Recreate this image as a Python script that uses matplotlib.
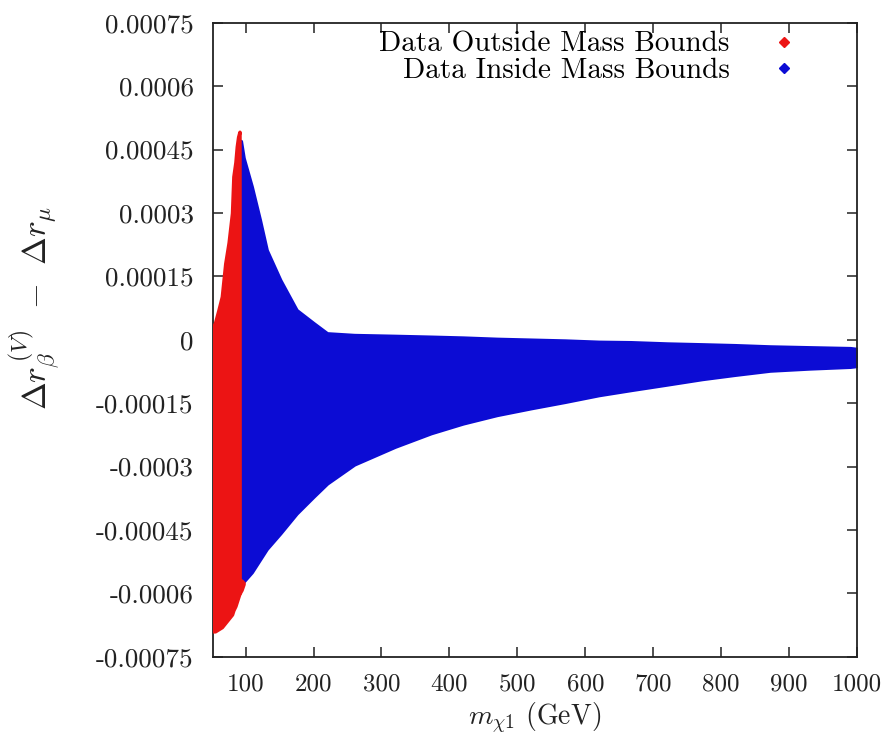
import matplotlib
matplotlib.use("Agg")
import matplotlib.pyplot as plt
from matplotlib.lines import Line2D

plt.rcParams['font.family'] = 'serif'
plt.rcParams['font.serif'] = ['cmr10', 'DejaVu Serif']
plt.rcParams['mathtext.fontset'] = 'cm'
plt.rcParams['axes.unicode_minus'] = False
plt.rcParams['axes.formatter.use_mathtext'] = True

# Envelope of the scatter (mass in GeV)
# red: data outside mass bounds
red_mass = [52, 55, 60, 65, 70, 75, 80, 82, 85, 87, 89, 91, 91.2, 94, 97]
red_upper = [0.00003, 0.00004, 0.00007, 0.000102, 0.00018, 0.00023, 0.0003,
             0.000386, 0.00042, 0.000457, 0.00048, 0.000492,
             -0.00057, -0.00057, -0.000575]
red_lower = [-0.00069, -0.00069, -0.000685, -0.00068, -0.00067, -0.00066,
             -0.00065, -0.00064, -0.00063, -0.00062, -0.00061, -0.00060,
             -0.00060, -0.000592, -0.000578]

# blue: data inside mass bounds
blue_mass = [91, 93, 97, 109, 121, 131, 151, 175, 200, 220, 260, 320, 373,
             420, 470, 520, 570, 620, 667, 720, 772, 820, 872, 930, 990, 1000]
blue_upper = [0.00046, 0.00047, 0.00043, 0.000362, 0.000283, 0.000212,
              0.000141, 0.00007, 0.000039, 0.000015, 0.000011, 0.000009,
              0.000007, 0.000005, 0.000002, 0.0, -0.000002, -0.000005,
              -0.000006, -0.000009, -0.000011, -0.000013, -0.000016,
              -0.000018, -0.00002, -0.000022]
blue_lower = [-0.00058, -0.00058, -0.000572, -0.00055, -0.00052, -0.000495,
              -0.000458, -0.000411, -0.000371, -0.00034, -0.000295,
              -0.000253, -0.000221, -0.000198, -0.000178, -0.000162,
              -0.000147, -0.000131, -0.000119, -0.000106, -0.000093,
              -0.000083, -0.000073, -0.000068, -0.000064, -0.000062]

x_ticks = [100, 200, 300, 400, 500, 600, 700, 800, 900, 1000]
y_ticks = [-0.00075, -0.0006, -0.00045, -0.0003, -0.00015, 0,
           0.00015, 0.0003, 0.00045, 0.0006, 0.00075]
y_tick_labels = ['-0.00075', '-0.0006', '-0.00045', '-0.0003', '-0.00015', '0',
                 '0.00015', '0.0003', '0.00045', '0.0006', '0.00075']

red = '#ec1414'
blue = '#0c0cd4'

fig = plt.figure(figsize=(8.9, 7.44), dpi=100)
ax = fig.add_axes([213 / 890, 87.3 / 744, 644 / 890, 634 / 744])

ax.fill_between(blue_mass, blue_lower, blue_upper, color=blue,
                edgecolor=blue, linewidth=2.5, zorder=2)
ax.fill_between(red_mass, red_lower, red_upper, color=red,
                edgecolor=red, linewidth=2.5, zorder=3)

ax.set_xlim(52, 1000)
ax.set_ylim(-0.00075, 0.00075)
ax.set_xticks(x_ticks)
ax.set_xticklabels([str(t) for t in x_ticks])
ax.set_yticks(y_ticks)
ax.set_yticklabels(y_tick_labels)

ax.tick_params(direction='in', length=7, width=1.1, labelsize=18,
               top=True, right=True, colors='#222222')
ax.tick_params(axis='y', pad=14, labelsize=19.5)
ax.tick_params(axis='x', pad=12)
for s in ax.spines.values():
    s.set_linewidth(1.3)
    s.set_color('#222222')

ax.set_xlabel(r'$m_{\chi 1}$ (GeV)', fontsize=20, color='#222222')
ax.xaxis.set_label_coords(0.5, -0.07)
ax.set_ylabel(r'$\Delta r_\beta^{\,(V)} \;\,-\;\, \Delta r_\mu$', fontsize=24,
              color='#222222')
ax.yaxis.set_label_coords(-0.234, 0.55)

handles = [
    Line2D([], [], linestyle='none', marker='D', markersize=5, color=red),
    Line2D([], [], linestyle='none', marker='D', markersize=5, color=blue),
]
ax.legend(handles, ['Data Outside Mass Bounds', 'Data Inside Mass Bounds'],
          loc='upper right', bbox_to_anchor=(0.936, 1.014), frameon=False,
          markerfirst=False, fontsize=21, handlelength=1.0,
          handletextpad=1.36, labelspacing=0.01, borderaxespad=0.2)

fig.savefig('out.png', dpi=100)
